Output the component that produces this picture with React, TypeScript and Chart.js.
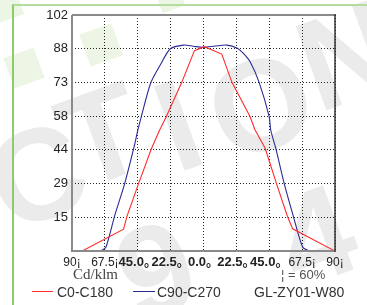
import React, { useEffect, useRef } from "react";
import { Chart, registerables } from "chart.js";

Chart.register(...registerables);

// ---- data ----
const xTickValues = [-90, -67.5, -45, -22.5, 0, 22.5, 45, 67.5, 90];
const xTickLabels = ["90¡", "67.5¡", "45.0。", "22.5。", "0.0。", "22.5。", "45.0。", "67.5¡", "90¡"];
const xTickBold = [false, false, true, true, true, true, true, false, false];

const yTickValues = [0, 14.57, 29.14, 43.71, 58.29, 72.86, 87.43, 102];
const yTickLabels = ["", "15", "29", "44", "58", "73", "88", "102"];

const seriesLabels = ["C0-C180", "C90-C270"];
const seriesColors = ["#ff2b2b", "#2b2b98"];

const c0Angles = [-83, -54.7, -52.4, -44.5, -35.8, -30, -25.5, -14.8, -6.2, 0.6, 12.5, 19.4, 31.9, 35.3, 42.2, 50, 57.4, 61, 90];
const c0Values = [0, 9.4, 15, 29, 44, 52.3, 58, 73, 86.6, 88.3, 85.1, 73, 58, 52.3, 44.4, 29, 15, 9.6, 0];

const c90Angles = [-70.2, -66.8, -60.9, -54, -47.9, -44.9, -42.6, -36.2, -29.6, -22.7, -13.7, -7, 0, 8, 16, 23.2, 27.3, 31.9, 38, 45, 46, 49.6, 55.3, 61.5, 67.9, 72.4];
const c90Values = [0, 1.6, 15, 29, 44, 52.3, 58, 72.5, 80.4, 87.4, 89, 88.5, 88, 88.6, 89, 87.6, 85.4, 81.8, 73, 58, 52.3, 44, 29, 15, 1.6, 0];

const unitLabel = "Cd/klm";
const ratioLabel = "¦ = 60%";
const modelLabel = "GL-ZY01-W80";

const FONT = "'Liberation Sans', Arial, 'Noto Sans CJK SC', sans-serif";

const frameBorder = {
  id: "frameBorder",
  afterDatasetsDraw(chart: any) {
    const { ctx, chartArea: a } = chart;
    ctx.save();
    ctx.setLineDash([]);
    ctx.lineWidth = 2;
    ctx.strokeStyle = "#8a8a8a";
    ctx.beginPath();
    ctx.moveTo(a.left, a.top);
    ctx.lineTo(a.left, a.bottom);
    ctx.lineTo(a.right, a.bottom);
    ctx.moveTo(a.left, a.top);
    ctx.lineTo(a.right, a.top);
    ctx.stroke();
    ctx.lineWidth = 1.5;
    ctx.strokeStyle = "#333";
    ctx.beginPath();
    ctx.moveTo(a.right, a.top - 1);
    ctx.lineTo(a.right, a.bottom + 1);
    ctx.stroke();
    ctx.restore();
  },
};

export default function App() {
  const ref = useRef<HTMLCanvasElement | null>(null);

  useEffect(() => {
    document.body.style.margin = "0";
    if (!ref.current) return;
    const chart = new Chart(ref.current, {
      type: "line",
      data: {
        datasets: [
          {
            label: seriesLabels[0],
            data: c0Angles.map((a, i) => ({ x: a, y: c0Values[i] })),
            borderColor: seriesColors[0],
            borderWidth: 1.1,
            pointRadius: 0,
            tension: 0,
          },
          {
            label: seriesLabels[1],
            data: c90Angles.map((a, i) => ({ x: a, y: c90Values[i] })),
            borderColor: seriesColors[1],
            borderWidth: 1.1,
            pointRadius: 0,
            tension: 0.25,
          },
        ],
      },
      options: {
        animation: false,
        responsive: false,
        layout: { padding: { top: 15, right: 32, left: 0, bottom: 0 } },
        plugins: { legend: { display: false }, tooltip: { enabled: false } },
        scales: {
          x: {
            type: "linear",
            min: -90,
            max: 90,
            afterBuildTicks: (s: any) => {
              s.ticks = xTickValues.map((v) => ({ value: v }));
            },
            afterFit: (s: any) => {
              s.height = 54;
            },
            border: { display: false, dash: [1, 2] },
            grid: {
              color: "#222",
              lineWidth: 1,
              drawTicks: false,
            },
            ticks: {
              autoSkip: false,
              maxRotation: 0,
              padding: 4,
              color: "#222",
              callback: (_v: any, i: number) => xTickLabels[i],
              font: (c: any) => ({
                family: FONT,
                size: xTickBold[c.index] ? 13 : 12,
                weight: xTickBold[c.index] ? "bold" : "normal",
              }),
            },
          },
          y: {
            type: "linear",
            min: 0,
            max: 102,
            afterBuildTicks: (s: any) => {
              s.ticks = yTickValues.map((v) => ({ value: v }));
            },
            afterFit: (s: any) => {
              s.width = 72;
            },
            border: { display: false, dash: [1, 2] },
            grid: { color: "#222", lineWidth: 1, drawTicks: false },
            ticks: {
              autoSkip: false,
              padding: 4,
              color: "#222",
              callback: (_v: any, i: number) => yTickLabels[i],
              font: { family: FONT, size: 13 },
            },
          },
        },
      },
      plugins: [frameBorder],
    } as any);
    return () => chart.destroy();
  }, []);

  const wm: React.CSSProperties = {
    position: "absolute",
    fontFamily: FONT,
    fontWeight: "bold",
    color: "#ebebeb",
    lineHeight: 1,
  };
  const sq = (x: number, y: number, s: number): React.CSSProperties => ({
    position: "absolute",
    left: x,
    top: y,
    width: s,
    height: s,
    background: "#edf6e5",
    transform: "rotate(-20deg)",
  });

  return (
    <div style={{ position: "relative", width: 367, height: 305, overflow: "hidden", background: "#fff" }}>
      {/* watermark */}
      <div style={sq(8, 52, 32)} />
      <div style={sq(84, 28, 34)} />
      <div style={sq(-10, -10, 30)} />
      <div style={sq(158, -14, 24)} />
      <div style={{ ...wm, left: -10, top: 110, fontSize: 130, transform: "rotate(-20deg)" }}>C</div>
      <div style={{ ...wm, left: 62, top: 70, fontSize: 130, transform: "rotate(-20deg)" }}>T</div>
      <div style={{ ...wm, left: 160, top: 60, fontSize: 130, transform: "rotate(-20deg)" }}>I</div>
      <div style={{ ...wm, left: 210, top: 40, fontSize: 130, transform: "rotate(-20deg)" }}>O</div>
      <div style={{ ...wm, left: 300, top: -10, fontSize: 130, transform: "rotate(-20deg)" }}>N</div>
      <div style={{ ...wm, left: 120, top: 205, fontSize: 130, transform: "rotate(-20deg)" }}>9</div>
      <div style={{ ...wm, left: 280, top: 170, fontSize: 130, transform: "rotate(-20deg)" }}>4</div>
      {/* green frame */}
      <div
        style={{
          position: "absolute",
          left: 12,
          top: 4,
          width: 400,
          height: 400,
          borderLeft: "2px solid #8ccb6a",
          borderTop: "2px solid #b4dc9e",
        }}
      />
      <canvas ref={ref} width={367} height={305} style={{ position: "absolute", left: 0, top: 0 }} />
      <div
        style={{
          position: "absolute",
          left: 73,
          top: 265,
          fontFamily: "'Liberation Serif', 'Times New Roman', serif",
          fontSize: 15,
          color: "#444",
          lineHeight: "18px",
        }}
      >
        {unitLabel}
      </div>
      <div
        style={{
          position: "absolute",
          left: 281,
          top: 266,
          fontFamily: FONT,
          fontSize: 13,
          color: "#555",
          lineHeight: "18px",
          whiteSpace: "pre",
        }}
      >
        {ratioLabel}
      </div>
      {/* legend */}
      <div style={{ position: "absolute", left: 32, top: 291, width: 21, height: 1, background: seriesColors[0] }} />
      <div style={{ position: "absolute", left: 57, top: 283, fontFamily: FONT, fontSize: 14, color: "#333", lineHeight: "18px" }}>
        {seriesLabels[0]}
      </div>
      <div style={{ position: "absolute", left: 133, top: 291, width: 22, height: 1, background: seriesColors[1] }} />
      <div style={{ position: "absolute", left: 157, top: 283, fontFamily: FONT, fontSize: 14, color: "#333", lineHeight: "18px" }}>
        {seriesLabels[1]}
      </div>
      <div style={{ position: "absolute", left: 254, top: 283, fontFamily: FONT, fontSize: 14, color: "#333", lineHeight: "18px" }}>
        {modelLabel}
      </div>
    </div>
  );
}
